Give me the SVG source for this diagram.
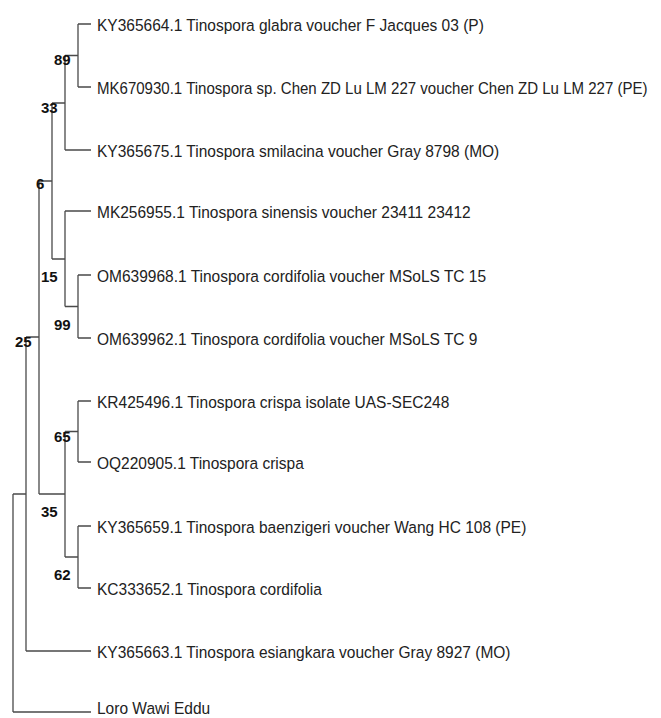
<svg xmlns="http://www.w3.org/2000/svg" width="661" height="718" viewBox="0 0 661 718">
<style>
  .edge { fill: none; stroke: #4a4a4a; stroke-width: 1.3; }
  .leaf { font-family: "Liberation Sans", Arial, sans-serif; font-size: 16.5px; fill: #222; }
  .support { font-family: "Liberation Sans", Arial, sans-serif; font-size: 15px; font-weight: bold; fill: #111; }
</style>
<rect width="661" height="718" fill="#ffffff"/>
<g id="connectors">
  <path class="edge" d="M78 24 V87 M78 24 H91 M78 87 H91 M65 55.5 H78"/>
  <path class="edge" d="M65 55.5 V150 M65 150 H91 M52 103 H65"/>
  <path class="edge" d="M78 275 V338 M78 275 H91 M78 338 H91 M65 306.5 H78"/>
  <path class="edge" d="M65 211 V306.5 M65 211 H91 M52 259 H65"/>
  <path class="edge" d="M52 103 V259 M39 181 H52"/>
  <path class="edge" d="M78 401 V462 M78 401 H91 M78 462 H91 M65 431.5 H78"/>
  <path class="edge" d="M78 526 V588 M78 526 H91 M78 588 H91 M65 557 H78"/>
  <path class="edge" d="M65 431.5 V557 M39 494 H65"/>
  <path class="edge" d="M39 181 V494 M26 337 H39"/>
  <path class="edge" d="M26 337 V651 M26 651 H91 M13 494 H26"/>
  <path class="edge" d="M13 494 V712 M13 712 H91"/>
</g>
<g id="leaf-KY365664" transform="translate(97,30.5) scale(0.94,1)"><text class="leaf">KY365664.1 Tinospora glabra voucher F Jacques 03 (P)</text></g>
<g id="leaf-MK670930" transform="translate(97,93.5) scale(0.94,1)"><text class="leaf" style="font-size:16px">MK670930.1 Tinospora sp. Chen ZD Lu LM 227 voucher Chen ZD Lu LM 227 (PE)</text></g>
<g id="leaf-KY365675" transform="translate(97,156.5) scale(0.94,1)"><text class="leaf">KY365675.1 Tinospora smilacina voucher Gray 8798 (MO)</text></g>
<g id="leaf-MK256955" transform="translate(97,217.5) scale(0.94,1)"><text class="leaf">MK256955.1 Tinospora sinensis voucher 23411 23412</text></g>
<g id="leaf-OM639968" transform="translate(97,281.5) scale(0.94,1)"><text class="leaf">OM639968.1 Tinospora cordifolia voucher MSoLS TC 15</text></g>
<g id="leaf-OM639962" transform="translate(97,344.5) scale(0.94,1)"><text class="leaf">OM639962.1 Tinospora cordifolia voucher MSoLS TC 9</text></g>
<g id="leaf-KR425496" transform="translate(97,407.5) scale(0.94,1)"><text class="leaf">KR425496.1 Tinospora crispa isolate UAS-SEC248</text></g>
<g id="leaf-OQ220905" transform="translate(97,468.5) scale(0.94,1)"><text class="leaf">OQ220905.1 Tinospora crispa</text></g>
<g id="leaf-KY365659" transform="translate(97,532.5) scale(0.94,1)"><text class="leaf">KY365659.1 Tinospora baenzigeri voucher Wang HC 108 (PE)</text></g>
<g id="leaf-KC333652" transform="translate(97,594.5) scale(0.94,1)"><text class="leaf">KC333652.1 Tinospora cordifolia</text></g>
<g id="leaf-KY365663" transform="translate(97,657.5) scale(0.94,1)"><text class="leaf">KY365663.1 Tinospora esiangkara voucher Gray 8927 (MO)</text></g>
<g id="leaf-Loro" transform="translate(97,714) scale(0.94,1)"><text class="leaf">Loro Wawi Eddu</text></g>
<g id="node-89"><text class="support" x="54" y="65">89</text></g>
<g id="node-33"><text class="support" x="41" y="113">33</text></g>
<g id="node-6"><text class="support" x="36" y="189">6</text></g>
<g id="node-15"><text class="support" x="41" y="282">15</text></g>
<g id="node-99"><text class="support" x="54" y="330">99</text></g>
<g id="node-25"><text class="support" x="15" y="347">25</text></g>
<g id="node-65"><text class="support" x="54" y="442">65</text></g>
<g id="node-35"><text class="support" x="41" y="517">35</text></g>
<g id="node-62"><text class="support" x="54" y="580">62</text></g>
</svg>
